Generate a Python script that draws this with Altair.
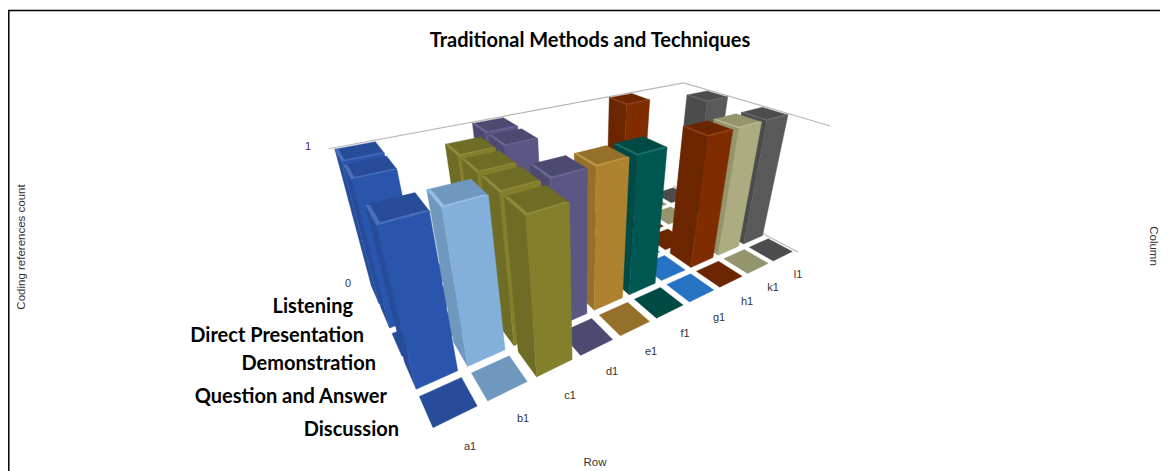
import numpy as np
import pandas as pd
import altair as alt

rows = ["a1", "b1", "c1", "d1", "e1", "f1", "g1", "h1", "k1", "l1"]
row_label_x = [470, 523, 570, 612, 651, 685, 719, 747, 773, 798]
row_label_y = [447, 419, 396, 372, 352, 334, 318, 302, 288, 275]
columns = ["Discussion", "Question and Answer", "Demonstration", "Direct Presentation", "Listening"]
discussion = [0, 0, 1, 0, 0, 0, 0, 0, 0, 0]
question = [1, 1, 1, 1, 1, 1, 0, 1, 1, 1]
demonstration = [0, 0, 1, 0, 0, 0, 0, 0, 0, 0]
direct = [1, 0, 1, 1, 0, 0, 0, 0, 0, 1]
listening = [1, 0, 0, 1, 0, 0, 0, 1, 0, 0]
series = [discussion, question, demonstration, direct, listening]

front = ["#2a55ac", "#83afdb", "#837f2b", "#5a5785", "#ae822e", "#005752", "#2673c4", "#7f2d00", "#adac80", "#595959"]
dark = ["#264c9a", "#7097be", "#6f6c25", "#4c4a70", "#96702a", "#004a46", "#2673c4", "#6b2600", "#94946d", "#4c4c4c"]
light = ["#4a70bb", "#93bfe9", "#8f8b3a", "#6a6795", "#c19744", "#16716b", "#2673c4", "#94421a", "#bdbc92", "#6b6b6b"]

# camera calibration: (row, column, height) -> page pixel
cal = [
    (.1, .1, 0, 433, 429), (.9, .1, 0, 478, 406), (.9, .9, 0, 462, 378), (.1, .9, 0, 419, 397),
    (9.1, .1, 0, 773, 262), (9.9, .1, 0, 793, 253), (9.9, .9, 0, 765, 239), (9.1, .9, 0, 750, 248),
    (0, 5, 1, 330, 148), (10, 5, 1, 683, 83), (10, 0, 1, 830, 125), (0, 5, 0, 365, 286),
    (2.1, .1, 1, 525, 215), (2.9, .1, 1, 568, 202), (2.9, .9, 1, 545, 185), (2.1, .9, 1, 503, 197),
    (2.1, .1, 0, 537, 377), (2.9, .1, 0, 573, 359),
    (9.1, 1.1, 1, 767, 122), (9.9, 1.1, 1, 787, 116), (9.9, 1.9, 1, 767, 107), (9.1, 1.9, 1, 740, 113),
    (9.1, 1.1, 0, 742, 243), (9.9, 1.1, 0, 765, 232),
    (.1, 1.1, 1, 377, 225), (.9, 1.1, 1, 429, 210), (.9, 1.9, 1, 415, 193), (.1, 1.9, 1, 366, 205),
    (.1, 1.1, 0, 417, 389), (.9, 1.1, 0, 458, 370),
]
A = []
for u, v, h, px, py in cal:
    X = np.array([u / 10, v / 5, h, 1.0])
    a, b = px / 1000, py / 1000
    A.append(np.r_[X, np.zeros(4), -a * X])
    A.append(np.r_[np.zeros(4), X, -b * X])
P = np.linalg.svd(np.array(A))[2][-1].reshape(3, 4)


def proj(u, v, h):
    q = P @ np.array([u / 10, v / 5, h, 1.0])
    return 1000 * q[0] / q[2], 1000 * q[1] / q[2]


recs = []
fid = 0


def face(pts, col):
    global fid
    fid += 1
    pts = pts + [pts[0]]
    for i, (u, v, h) in enumerate(pts):
        x, y = proj(u, v, h)
        recs.append(dict(x=x, y=y, i=i, face=fid, fill=col))


g, w = 0.1, 0.06
for v in range(4, -1, -1):
    for u in range(9, -1, -1):
        a0, a1, b0, b1 = u + g, u + 1 - g, v + g, v + 1 - g
        if series[v][u] == 0:
            face([(a0, b0, 0), (a1, b0, 0), (a1, b1, 0), (a0, b1, 0)], dark[u])
        else:
            face([(a0, b0, 0), (a0, b1, 0), (a0, b1, 1), (a0, b0, 1)], dark[u])
            face([(a0, b0, 0), (a1, b0, 0), (a1, b0, 1), (a0, b0, 1)], front[u])
            face([(a0, b0, 1), (a1, b0, 1), (a1, b1, 1), (a0, b1, 1)], dark[u])
            face([(a0, b0, 1), (a1, b0, 1), (a1 - w, b0 + w, 1), (a0 + w, b0 + w, 1)], light[u])
            face([(a0, b0, 1), (a0, b1, 1), (a0 + w, b1 - w, 1), (a0 + w, b0 + w, 1)], light[u])

df = pd.DataFrame(recs)

X = alt.X("x:Q", scale=alt.Scale(domain=[8, 1160], range=[0, 1152]), axis=None)
Y = alt.Y("y:Q", scale=alt.Scale(domain=[8, 471], range=[0, 463]), axis=None)

wall = []
for k, (u, v, h) in enumerate([(0, 5, 1), (10, 5, 1), (10, 0, 1)]):
    x, y = proj(u, v, h)
    wall.append(dict(x=x, y=y, i=k, s="wall"))
for k, (u, v, h) in enumerate([(10, 0, 0), (10, 5, 0)]):
    x, y = proj(u, v, h)
    wall.append(dict(x=x, y=y, i=k, s="edge"))
wall_chart = alt.Chart(pd.DataFrame(wall)).mark_line(color="#b8b8b8", strokeWidth=1.2).encode(
    x=X, y=Y, order="i:Q", detail="s:N")

frame = pd.DataFrame([dict(x=1160, y=10.5, i=0), dict(x=8.8, y=10.5, i=1), dict(x=8.8, y=471, i=2)])
frame_chart = alt.Chart(frame).mark_line(color="#000000", strokeWidth=1.5).encode(x=X, y=Y, order="i:Q")

faces = alt.Chart(df).mark_line(strokeWidth=0.4, interpolate="linear").encode(
    x=X, y=Y, order="i:Q", detail="face:N",
    fill=alt.Fill("fill:N", scale=None, legend=None),
    stroke=alt.Stroke("fill:N", scale=None, legend=None))


def text_layer(recs, **kw):
    return alt.Chart(pd.DataFrame(recs)).mark_text(**kw).encode(x=X, y=Y, text="t:N")


rowl = text_layer([dict(x=row_label_x[k], y=row_label_y[k], t=r) for k, r in enumerate(rows)],
                  font="Liberation Sans", fontSize=11, color="#333333")

big_right = [399, 387, 376, 364, 353]
big_y = [429.5, 396.5, 363.5, 335.5, 306.5]
big = text_layer([dict(x=big_right[i], y=big_y[i], t=columns[i]) for i in range(5)],
                 font="Lato", fontSize=20, fontWeight="bold", color="#000000", align="right")
title = text_layer([dict(x=590, y=40.5, t="Traditional Methods and Techniques")],
                   font="Lato", fontSize=20, fontWeight="bold", color="#000000")
tick1 = text_layer([dict(x=308, y=147, t="1")], font="Liberation Sans", fontSize=11, color="#5a1a6a")
tick0 = text_layer([dict(x=348, y=284, t="0")], font="Liberation Sans", fontSize=11, color="#333355")
rowt = text_layer([dict(x=595, y=463, t="Row")], font="Liberation Sans", fontSize=11.5, color="#333333")
ylab = text_layer([dict(x=22, y=247, t="Coding references count")], font="Liberation Sans", fontSize=11.5,
                  color="#333333", angle=270)
collab = text_layer([dict(x=1153, y=246, t="Column")], font="Liberation Sans", fontSize=11.5,
                    color="#333333", angle=90)

chart = alt.layer(frame_chart, wall_chart, faces, rowl, big, title, tick1, tick0, rowt, ylab, collab).properties(
    width=1152, height=463, padding=0, autosize=alt.AutoSizeParams(type="none"),
    background="#ffffff").configure_view(stroke=None)
chart.save("out.html", embed_options={"renderer": "svg", "actions": False})
